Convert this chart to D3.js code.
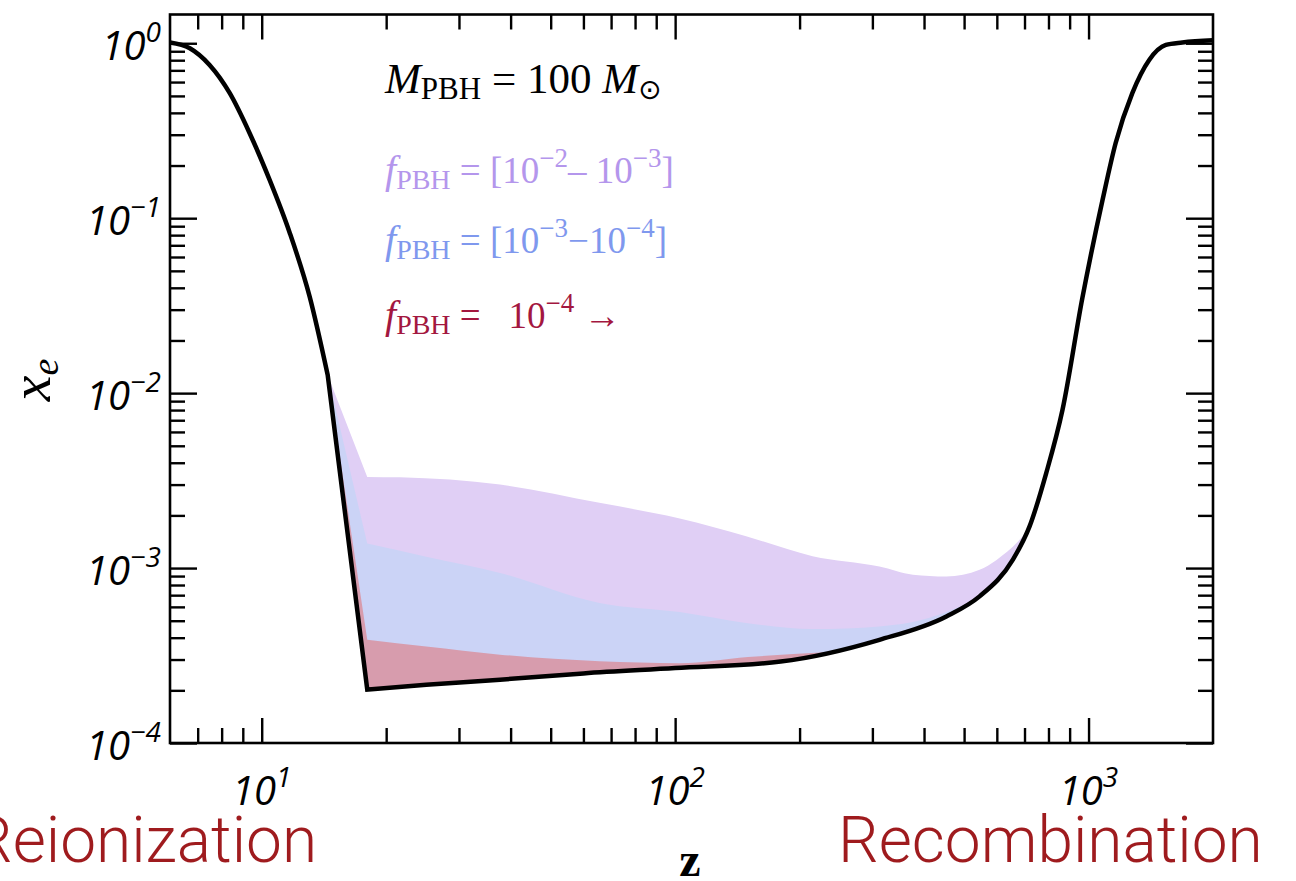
<!DOCTYPE html>
<html>
<head>
<meta charset="utf-8">
<script src="https://cdn.jsdelivr.net/npm/d3@7"></script>
<style>
  body { margin: 0; background: #fff; }
  svg { display: block; }
</style>
</head>
<body>
<div id="container"></div>
<script>
/* CONSTANTS AND GLOBALS */
const width = 1296;
const height = 881;
const plot = { left: 170, right: 1213, top: 14.5, bottom: 743 };

/* DATA */
// baseline x_e(z) without PBH accretion (black curve)
const zBase  = [6, 6.7, 7.48, 8.37, 9.35, 10.45, 11.69, 13.06, 14.44, 18, 25, 37.7, 60, 100, 180, 312, 453, 545, 655, 720, 790, 865, 966, 1081, 1163, 1276, 1402, 1538, 1686, 2000];
const xeBase = [1.01, 0.936, 0.751, 0.518, 0.306, 0.1655, 0.0824, 0.0356, 0.0127, 2.02e-4, 2.15e-4, 2.3e-4, 2.5e-4, 2.68e-4, 2.92e-4, 3.89e-4, 5.29e-4, 6.89e-4, 1.11e-3, 1.73e-3, 3.49e-3, 8.03e-3, 0.0349, 0.127, 0.269, 0.519, 0.803, 0.978, 1.01, 1.04];
const kinkIndex = 8; // straight drop between z=14.44 and z=18

// upper edge of each shaded band (starts at the kink)
const zPurple  = [14.44, 18, 21.6, 37.7, 65.6, 102.6, 148.5, 215, 312, 376, 453, 545, 598, 681, 730];
const xePurple = [0.0127, 3.32e-3, 3.3e-3, 3.0e-3, 2.36e-3, 1.92e-3, 1.52e-3, 1.17e-3, 1.02e-3, 9.16e-4, 8.95e-4, 9.78e-4, 1.11e-3, 1.45e-3, 1.8e-3];

const zBlue  = [14.44, 18, 25, 37.7, 65.6, 102.6, 148.5, 215, 312, 400, 470, 520];
const xeBlue = [0.0127, 1.38e-3, 1.16e-3, 9.38e-4, 6.32e-4, 5.6e-4, 4.85e-4, 4.48e-4, 4.64e-4, 5.1e-4, 5.8e-4, 6.4e-4];

const zRed  = [14.44, 18, 25, 37.7, 65.6, 102.6, 150, 230];
const xeRed = [0.0127, 3.89e-4, 3.56e-4, 3.2e-4, 2.93e-4, 2.86e-4, 3.1e-4, 3.3e-4];

const bands = [
  { name: "purple", z: zPurple, xe: xePurple, fill: "#e0cff5" },
  { name: "blue",   z: zBlue,   xe: xeBlue,   fill: "#cbd3f6" },
  { name: "red",    z: zRed,    xe: xeRed,    fill: "#d79cad" }
];

const xMajor = [10, 100, 1000];
const yMajor = [1e-4, 1e-3, 1e-2, 1e-1, 1];
const xLabels = ["1", "2", "3"];
const yLabels = ["\u22124", "\u22123", "\u22122", "\u22121", "0"];

/* SCALES */
const svg = d3.select("#container")
  .append("svg")
  .attr("width", width)
  .attr("height", height);

const xScale = d3.scaleLog()
  .domain([6, 2000])
  .range([plot.left, plot.right]);

const yScale = d3.scaleLog()
  .domain([1e-4, 1.46])
  .range([plot.bottom, plot.top]);

// minor ticks 2..9 per decade, inside the domain
const minorOf = (scale, decades) => decades.flatMap(d => d3.range(2, 10).map(k => k * d))
  .filter(v => v > scale.domain()[0] && v < scale.domain()[1]);
const xMinor = minorOf(xScale, [1, 10, 100, 1000]);
const yMinor = minorOf(yScale, [1e-4, 1e-3, 1e-2, 1e-1, 1]);

const smooth = d3.line()
  .x(d => xScale(d[0]))
  .y(d => yScale(d[1]))
  .curve(d3.curveMonotoneX);

const basePts = zBase.map((z, i) => [z, xeBase[i]]);
const baseD = smooth(basePts.slice(0, kinkIndex + 1)) +
  smooth(basePts.slice(kinkIndex + 1)).replace(/^M/, "L");

/* CLIPS */
const defs = svg.append("defs");
defs.append("clipPath").attr("id", "above")
  .append("path")
  .attr("d", baseD +
    `L${xScale(2000)},${plot.top}L${xScale(6)},${plot.top}Z`);

/* BANDS */
const bandG = svg.append("g").attr("clip-path", "url(#above)");
bands.forEach(b => {
  const pts = b.z.map((z, i) => [z, b.xe[i]]);
  const last = pts[pts.length - 1];
  const d = `M${xScale(pts[0][0])},${yScale(pts[0][1])}` +
    smooth(pts.slice(1)).replace(/^M/, "L") +
    `L${xScale(last[0])},${plot.bottom}L${xScale(pts[0][0])},${plot.bottom}Z`;
  bandG.append("path")
    .attr("class", "band " + b.name)
    .attr("d", d)
    .attr("fill", b.fill);
});

/* BLACK CURVE */
svg.append("path")
  .attr("d", baseD)
  .attr("fill", "none")
  .attr("stroke", "#000")
  .attr("stroke-width", 4.5)
  .attr("stroke-linejoin", "miter");

/* AXES (inward ticks on all four sides) */
const tickStyle = g => {
  g.select(".domain").remove();
  g.selectAll("line").attr("stroke", "#000").attr("stroke-width", 2.4);
};
const addAxis = (axis, tx, ty) => svg.append("g")
  .attr("transform", `translate(${tx},${ty})`)
  .call(axis)
  .call(tickStyle);

addAxis(d3.axisBottom(xScale).tickValues(xMajor).tickSize(-25).tickFormat(""), 0, plot.bottom);
addAxis(d3.axisBottom(xScale).tickValues(xMinor).tickSize(-15).tickFormat(""), 0, plot.bottom);
addAxis(d3.axisTop(xScale).tickValues(xMajor).tickSize(-25).tickFormat(""), 0, plot.top);
addAxis(d3.axisTop(xScale).tickValues(xMinor).tickSize(-15).tickFormat(""), 0, plot.top);
addAxis(d3.axisLeft(yScale).tickValues(yMajor).tickSize(-27).tickFormat(""), plot.left, 0);
addAxis(d3.axisLeft(yScale).tickValues(yMinor).tickSize(-15).tickFormat(""), plot.left, 0);
addAxis(d3.axisRight(yScale).tickValues(yMajor).tickSize(-27).tickFormat(""), plot.right, 0);
addAxis(d3.axisRight(yScale).tickValues(yMinor).tickSize(-15).tickFormat(""), plot.right, 0);

svg.append("rect")
  .attr("x", plot.left)
  .attr("y", plot.top)
  .attr("width", plot.right - plot.left)
  .attr("height", plot.bottom - plot.top)
  .attr("fill", "none")
  .attr("stroke", "#000")
  .attr("stroke-width", 2.6);

/* TICK LABELS */
const tickFont = "'Open Sans', 'Noto Sans', sans-serif";
const powLabel = (sel, exp) => {
  sel.append("tspan").text("10");
  sel.append("tspan").attr("font-size", 28).attr("dy", -18).text(exp);
};

yMajor.forEach((v, i) => {
  svg.append("text")
    .attr("x", 161)
    .attr("y", yScale(v) + 17)
    .attr("text-anchor", "end")
    .attr("font-family", tickFont)
    .attr("font-style", "italic")
    .attr("font-size", 40)
    .call(powLabel, yLabels[i]);
});

xMajor.forEach((v, i) => {
  svg.append("text")
    .attr("x", xScale(v))
    .attr("y", 805)
    .attr("text-anchor", "middle")
    .attr("font-family", tickFont)
    .attr("font-style", "italic")
    .attr("font-size", 40)
    .call(powLabel, xLabels[i]);
});

/* AXIS TITLES */
const yTitle = svg.append("text")
  .attr("transform", "translate(50,380) rotate(-90)")
  .attr("text-anchor", "middle")
  .attr("font-family", "'Liberation Serif', serif")
  .attr("font-style", "italic")
  .attr("font-size", 58);
yTitle.append("tspan").text("x");
yTitle.append("tspan").attr("font-size", 38).attr("dy", 8).text("e");

svg.append("text")
  .attr("x", 690)
  .attr("y", 876)
  .attr("text-anchor", "middle")
  .attr("font-family", "'Liberation Serif', serif")
  .attr("font-weight", "bold")
  .attr("font-size", 48)
  .text("z");

/* LEGEND TEXT */
const serif = "'Liberation Serif', 'DejaVu Serif', serif";
const mLine = svg.append("text")
  .attr("x", 385).attr("y", 93)
  .attr("font-family", serif)
  .attr("font-size", 43)
  .attr("fill", "#000");
mLine.append("tspan").attr("font-style", "italic").text("M");
mLine.append("tspan").attr("font-size", 31).attr("dy", 6).text("PBH");
mLine.append("tspan").attr("dy", -6).text(" = 100 ");
mLine.append("tspan").attr("font-style", "italic").text("M");
mLine.append("tspan").attr("font-size", 28).attr("dy", 6).attr("font-family", "'DejaVu Sans', sans-serif").text("\u2299");

const fLines = [
  { y: 183, color: "#b496ec", parts: [[" = [10", "\u22122"], ["\u2013 10", "\u22123"], ["]", null]] },
  { y: 253, color: "#7f98ee", parts: [[" = [10", "\u22123"], ["\u221210", "\u22124"], ["]", null]] },
  { y: 328, color: "#a3173f", parts: [[" =\u00a0\u00a0\u00a010", "\u22124"], ["\u00a0\u2192", null]] }
];
fLines.forEach(l => {
  const t = svg.append("text")
    .attr("x", 385).attr("y", l.y)
    .attr("font-family", serif)
    .attr("font-size", 37)
    .attr("fill", l.color);
  t.append("tspan").attr("font-style", "italic").attr("font-size", 40).text("f");
  t.append("tspan").attr("font-size", 28).attr("dy", 6).text("PBH");
  let shift = -6;
  l.parts.forEach(([base, sup]) => {
    t.append("tspan").attr("dy", shift).text(base);
    shift = 0;
    if (sup) {
      t.append("tspan").attr("font-size", 27).attr("dy", -16).text(sup);
      shift = 16;
    }
  });
});

/* ERA LABELS */
const eraFont = "Roboto, 'Liberation Sans', sans-serif";
svg.append("text")
  .attr("x", -28).attr("y", 862)
  .attr("font-family", eraFont)
  .attr("font-weight", 300)
  .attr("font-size", 64)
  .attr("fill", "#9f1b1e")
  .text("Reionization");
svg.append("text")
  .attr("x", 838).attr("y", 862)
  .attr("font-family", eraFont)
  .attr("font-weight", 300)
  .attr("font-size", 64)
  .attr("fill", "#9f1b1e")
  .text("Recombination");
</script>
</body>
</html>
